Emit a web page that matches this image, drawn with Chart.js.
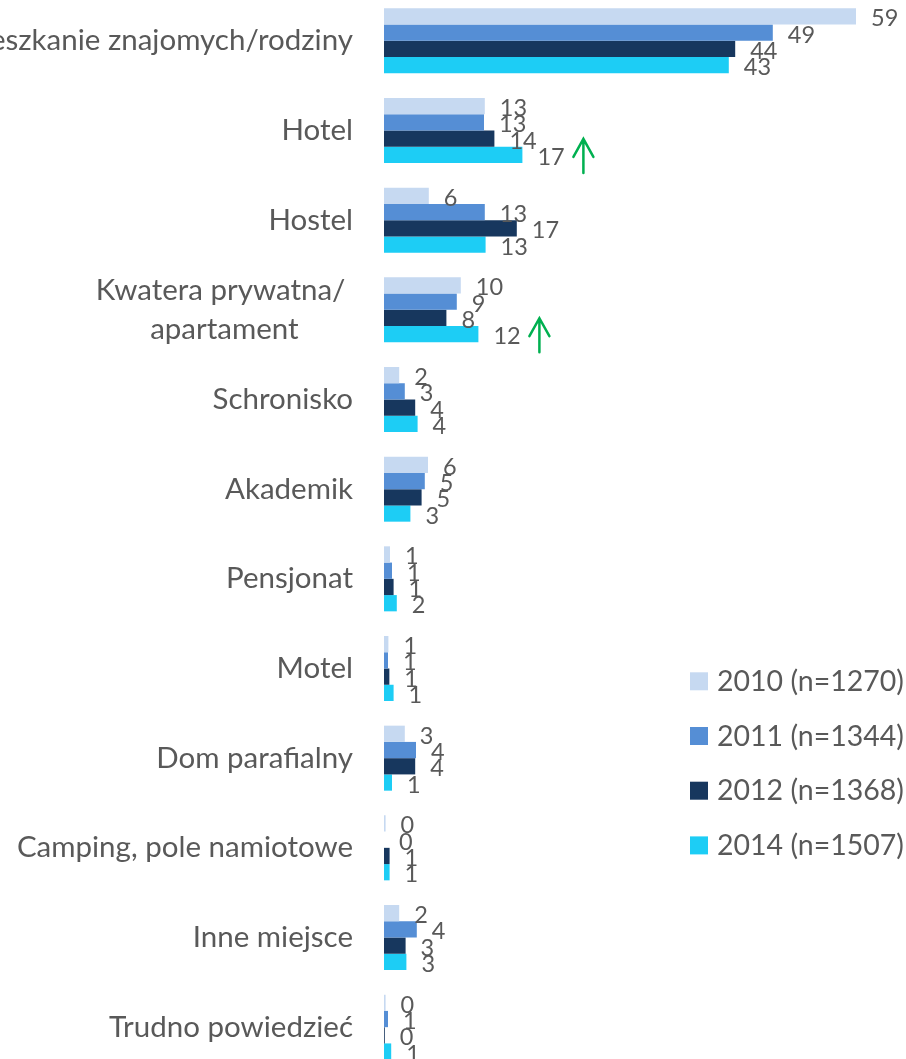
<!DOCTYPE html>
<html><head><meta charset="utf-8">
<script src="https://cdn.jsdelivr.net/npm/chart.js@4.4.1/dist/chart.umd.min.js"></script>
<style>
html,body{margin:0;padding:0;overflow:hidden;background:#fff;width:906px;height:1059px;}
#wrap{position:absolute;left:0;top:-4px;width:906px;height:1076px;}
</style>
</head><body><div id="wrap"><canvas id="c"></canvas></div>
<script>
// ---- data ----
const categories = [
  "Mieszkanie znajomych/rodziny",
  "Hotel",
  "Hostel",
  ["Kwatera prywatna/ ", "apartament"],
  "Schronisko",
  "Akademik",
  "Pensjonat",
  "Motel",
  "Dom parafialny",
  "Camping, pole namiotowe",
  "Inne miejsce",
  "Trudno powiedzieć"
];
const seriesNames = ["2010 (n=1270)", "2011 (n=1344)", "2012 (n=1368)", "2014 (n=1507)"];
const values2010 = [59, 12.6, 5.6, 9.6, 1.9, 5.5, 0.75, 0.55, 2.6, 0.2, 1.9, 0.2];
const values2011 = [48.6, 12.5, 12.6, 9.1, 2.6, 5.1, 1.0, 0.5, 4.0, 0, 4.1, 0.5];
const values2012 = [43.9, 13.8, 16.6, 7.8, 3.9, 4.7, 1.2, 0.67, 3.9, 0.7, 2.7, 0.1];
const values2014 = [43.1, 17.3, 12.7, 11.8, 4.2, 3.3, 1.6, 1.2, 1.0, 0.7, 2.8, 0.9];
// significant increases marked with a green arrow: [category index, series index]
const upArrows = [[1, 3], [3, 3]];

// ---- style ----
const colors = ["#C6D9F1", "#558ED5", "#17375E", "#1DCDF5"];
const TEXT = "#595959";
const FONT = "Lato, 'Open Sans', sans-serif";

const catLabelPlugin = {
  id: "catLabels",
  afterDraw(chart) {
    const ctx = chart.ctx, ys = chart.scales.y;
    ctx.save();
    ctx.font = "29.5px " + FONT;
    ctx.fillStyle = TEXT;
    ctx.textBaseline = "alphabetic";
    ctx.textAlign = "center";
    chart.data.labels.forEach((lab, i) => {
      const lines = Array.isArray(lab) ? lab : [lab];
      const yc = ys.getPixelForValue(i);
      const bw = Math.max(...lines.map(l => ctx.measureText(l).width));
      const cx = ys.right - 31 - bw / 2;
      lines.forEach((l, k) => {
        ctx.fillText(l, cx, yc + (k - (lines.length - 1) / 2) * 39.4 + 9.5);
      });
    });
    ctx.restore();
  }
};

const valueLabelPlugin = {
  id: "valueLabels",
  afterDatasetsDraw(chart) {
    const ctx = chart.ctx;
    ctx.save();
    ctx.font = "23.5px " + FONT;
    ctx.fillStyle = TEXT;
    ctx.textAlign = "left";
    ctx.textBaseline = "alphabetic";
    chart.data.datasets.forEach((ds, di) => {
      chart.getDatasetMeta(di).data.forEach((el, i) => {
        ctx.fillText(String(Math.round(ds.data[i])), el.x + 15, el.y + 10);
      });
    });
    // arrows
    ctx.strokeStyle = "#00B050";
    ctx.lineWidth = 2.5;
    ctx.lineCap = "round";
    upArrows.forEach(([ci, si]) => {
      const el = chart.getDatasetMeta(si).data[ci];
      const x = el.x + 61;
      const top = el.y - 16, bot = el.y + 18;
      ctx.beginPath();
      ctx.moveTo(x, bot); ctx.lineTo(x, top);
      ctx.moveTo(x - 10, top + 18); ctx.lineTo(x, top); ctx.lineTo(x + 10, top + 18);
      ctx.stroke();
    });
    ctx.restore();
  }
};

const legendPlugin = {
  id: "customLegend",
  afterDraw(chart) {
    const ctx = chart.ctx;
    ctx.save();
    ctx.font = "28.5px " + FONT;
    ctx.textAlign = "left";
    ctx.textBaseline = "alphabetic";
    chart.data.datasets.forEach((ds, i) => {
      const cy = 685.3 + i * 54.7;
      ctx.fillStyle = ds.backgroundColor;
      ctx.fillRect(690, cy - 9, 18, 18);
      ctx.fillStyle = TEXT;
      ctx.fillText(ds.label, 717, cy + 9.7);
    });
    ctx.restore();
  }
};

const seriesValues = [values2010, values2011, values2012, values2014];
new Chart(document.getElementById("c"), {
  type: "bar",
  data: {
    labels: categories,
    datasets: seriesNames.map((n, i) => ({
      label: n,
      data: seriesValues[i],
      backgroundColor: colors[i],
      borderWidth: 0,
      categoryPercentage: 0.725,
      barPercentage: 1.0
    }))
  },
  options: {
    indexAxis: "y",
    responsive: true,
    maintainAspectRatio: false,
    animation: false,
    layout: { padding: { left: 0, right: 2, top: 0, bottom: 0 } },
    plugins: { legend: { display: false }, tooltip: { enabled: false } },
    scales: {
      x: { display: false, min: 0, max: 65 },
      y: {
        display: true,
        grid: { display: false, drawTicks: false },
        border: { display: false },
        ticks: { display: false },
        afterFit(s) { s.width = 384; }
      }
    }
  },
  plugins: [catLabelPlugin, valueLabelPlugin, legendPlugin]
});
</script>
</body></html>
